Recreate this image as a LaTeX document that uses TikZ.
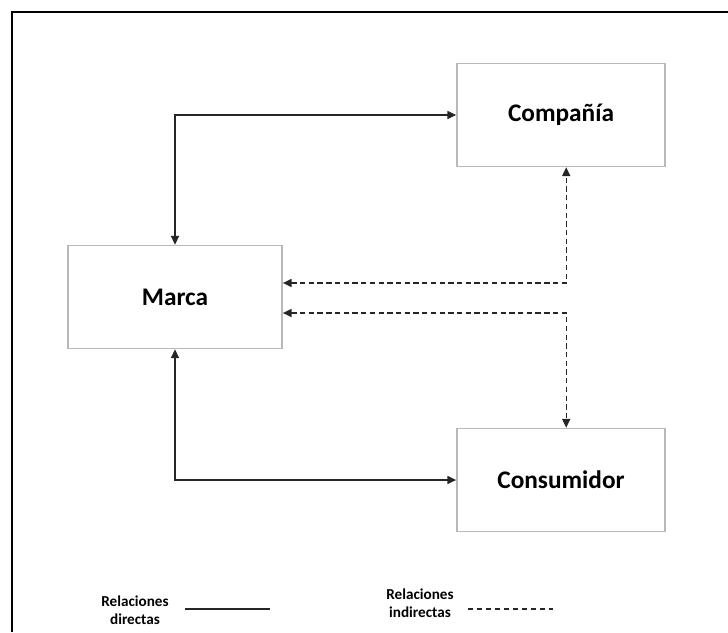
\documentclass[tikz,border=0pt]{standalone}
\usepackage{fontspec}
\setmainfont{Carlito}
\usetikzlibrary{arrows.meta,positioning}
\tikzset{
  entity/.style={rectangle,draw=gray!55,line width=1.2pt,fill=white,
    minimum width=5.2cm,minimum height=2.57cm,inner sep=2pt,
    font=\fontsize{18}{21}\selectfont\bfseries},
  legendtext/.style={align=center,inner sep=1pt,
    font=\fontsize{10.8}{13}\selectfont\bfseries},
  direct/.style={<->,line width=1pt,black!85},
  indirect/.style={<->,line width=1pt,black!85,dash pattern=on 3.8pt off 2.4pt}
}

\begin{document}
\begin{tikzpicture}[x=0.025cm,y=-0.025cm,>={Triangle[length=2.2mm,width=2mm]}]
        \useasboundingbox (0,0) rectangle (728,632);
        % frame
        \draw[line width=1.1pt] (12,632) -- (12,12) -- (728,12);
        % boxes
        \node[entity,minimum width=5.35cm] (marca) at (175,297) {Marca};
        \node[entity] (compania) at (561,115) {Compañía};
        \node[entity] (consumidor) at (561,480) {Consumidor};
        % relations
        \draw[direct] (marca.north) |- (compania.west);
        \draw[direct] (marca.south) |- (consumidor.west);
        \draw[indirect] ([yshift=0.35cm]marca.east) -| ([xshift=0.13cm]compania.south);
        \draw[indirect] ([yshift=-0.4cm]marca.east) -| ([xshift=0.13cm]consumidor.north);
        % legend
        \node[legendtext] (directas) at (135,610) {Relaciones\\directas};
        \coordinate (d1) at (185,609);
        \coordinate (d2) at (270,609);
        \draw[line width=1pt,black!85] (d1) -- (d2);
        \node[legendtext] (indirectas) at (420,603) {Relaciones\\indirectas};
        \coordinate (i1) at (468,609);
        \coordinate (i2) at (553,609);
        \draw[line width=0.8pt,black!85,dash pattern=on 3.6pt off 2.8pt] (i1) -- (i2);
      \end{tikzpicture}
\end{document}
